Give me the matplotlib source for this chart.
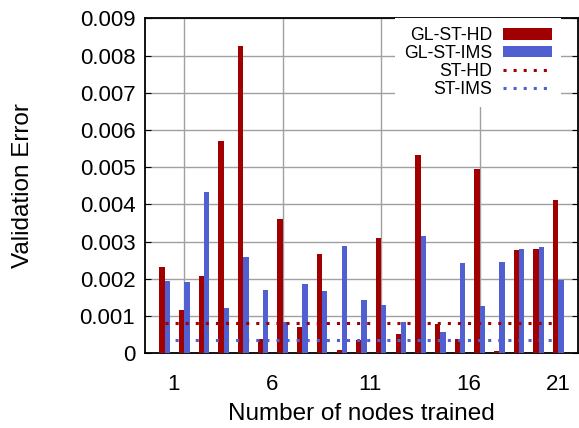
import matplotlib
matplotlib.use('Agg')
import matplotlib.pyplot as plt
import numpy as np

plt.rcParams['font.family'] = ['Liberation Sans', 'DejaVu Sans']

nodes = np.arange(1, 22)
gl_st_hd = [0.00233, 0.00116, 0.00208, 0.00570, 0.00826, 0.00038, 0.00361,
            0.00072, 0.00267, 0.00009, 0.00036, 0.00309, 0.00053, 0.00533,
            0.00079, 0.00038, 0.00495, 0.00005, 0.00278, 0.00281, 0.00413]
gl_st_ims = [0.00194, 0.00192, 0.00433, 0.00122, 0.00260, 0.00170, 0.00084,
             0.00185, 0.00167, 0.00288, 0.00144, 0.00131, 0.00085, 0.00314,
             0.00057, 0.00243, 0.00126, 0.00245, 0.00281, 0.00285, 0.00197]
st_hd = 0.00082
st_ims = 0.00036
tick_labels = ['1', '6', '11', '16', '21']

red = '#a00000'
blue = '#5060d0'


def main():
    fig = plt.figure(figsize=(5.79, 4.28), dpi=100)
    ax = fig.add_axes([0.2504, 0.1745, 0.7479, 0.7825])

    w = 0.27
    b1 = ax.bar(nodes - 0.135, gl_st_hd, w, color=red, label='GL-ST-HD', zorder=3)
    b2 = ax.bar(nodes + 0.135, gl_st_ims, w, color=blue, label='GL-ST-IMS', zorder=3)
    l1 = ax.hlines(st_hd, nodes[0], nodes[-1], colors=red, linestyles=(0, (1, 2.3)),
                   linewidth=2.2, label='ST-HD', zorder=4)
    l2 = ax.hlines(st_ims, nodes[0], nodes[-1], colors=blue, linestyles=(0, (1, 2.3)),
                   linewidth=2.2, label='ST-IMS', zorder=4)

    ax.set_xlim(0, 22)
    ax.set_ylim(0, 0.009)
    ax.set_yticks(np.arange(0, 0.0091, 0.001))
    ax.set_yticklabels(['0'] + ['%.3f' % v for v in np.arange(0.001, 0.0091, 0.001)])
    ax.set_xticks([1.45, 6.45, 11.45, 16.45, 21.0])
    ax.set_xticklabels(tick_labels)
    ax.set_xticks([2, 7, 12, 17], minor=True)
    ax.tick_params(axis='x', which='both', length=0, labelsize=16, pad=15)
    ax.tick_params(axis='y', direction='in', length=4, labelsize=16, pad=7,
                   right=True)
    ax.grid(True, axis='y', color='#a0a0a0', linewidth=1, zorder=0)
    ax.grid(True, axis='x', which='minor', color='#a0a0a0', linewidth=1, zorder=0)
    ax.set_axisbelow(True)
    for s in ax.spines.values():
        s.set_linewidth(1.3)

    ax.set_xlabel('Number of nodes trained', fontsize=17.5, labelpad=6)
    ax.set_ylabel('Validation Error', fontsize=17.5, labelpad=33)

    leg = ax.legend([b1, b2, l1, l2], ['GL-ST-HD', 'GL-ST-IMS', 'ST-HD', 'ST-IMS'],
                    loc='upper right', bbox_to_anchor=(0.961, 1.0),
                    markerfirst=False, frameon=True,
                    fontsize=12.7, handlelength=2.8, handleheight=0.6,
                    labelspacing=0.05, borderaxespad=0.0, handletextpad=0.6,
                    borderpad=0.5, fancybox=False)
    leg.get_frame().set_edgecolor('none')
    leg.get_frame().set_facecolor('white')
    leg.get_frame().set_alpha(1)

    fig.savefig('out.png', dpi=100)


if __name__ == "__main__":
    main()
